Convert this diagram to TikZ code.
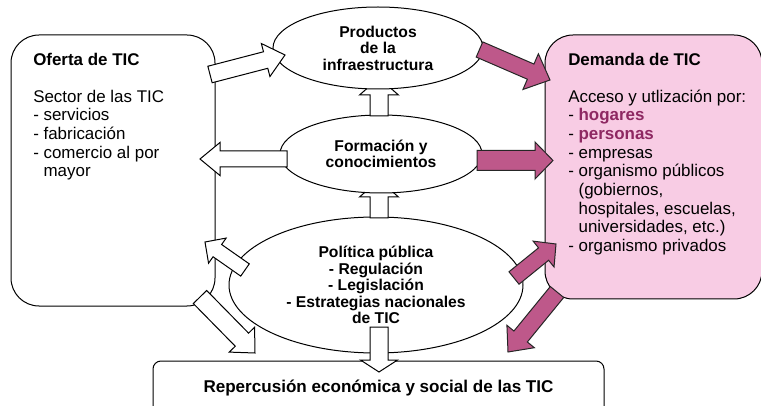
\documentclass[tikz,border=0pt]{standalone}
\usepackage{fontspec}
\setmainfont{Liberation Sans}
\usepackage{xcolor}
\usepackage{tikz}
\definecolor{boxpink}{RGB}{248, 204, 228}
\definecolor{arrowpink}{RGB}{190, 88, 138}
\definecolor{textpink}{RGB}{142, 40, 98}
\usetikzlibrary{shapes.geometric,calc,positioning}

% block arrow: style, from, to, shaft half width, head half width, head length
\newcommand{\blockarrow}[6]{%
  \coordinate (hb) at ($(#3)!#6!(#2)$);
  \draw[#1] ($(#2)!#4!90:(#3)$) -- ($(hb)!#4!90:(#3)$) -- ($(hb)!#5!90:(#3)$)
    -- (#3) -- ($(hb)!#5!-90:(#3)$) -- ($(hb)!#4!-90:(#3)$) -- ($(#2)!#4!-90:(#3)$) -- cycle;}

\begin{document}
\begin{tikzpicture}[
    x=0.75pt, y=-0.75pt,
    bubble/.style={
        ellipse,
        draw,
        fill=white,
        line width=0.75pt,
        inner sep=0pt,
        align=center,
        font=\bfseries\fontsize{11.75}{12.4}\selectfont
    },
    panel/.style={
        rectangle,
        rounded corners=21pt,
        draw,
        line width=0.75pt
    },
    paneltext/.style={
        anchor=north west,
        inner sep=0pt,
        align=left,
        font=\fontsize{12.7}{14}\selectfont
    },
    hollow/.style={draw, fill=white, line width=0.75pt},
    solid/.style={draw=black!85, fill=arrowpink, line width=0.75pt}
]
    \useasboundingbox (0,0) rectangle (761,406);

    % Middle column
    \node[bubble, minimum width=220.5pt, minimum height=102pt] (poli) at (376,285) {
        Política pública\\
        - Regulación\\
        - Legislación\\
        - Estrategias nacionales\\
        de TIC
    };
    \coordinate (poliTop) at (379,218);
    \coordinate (formIn) at (379,180);
    \blockarrow{hollow}{poliTop}{formIn}{6.75pt}{14.6pt}{12.75pt}

    \node[bubble, minimum width=151.5pt, minimum height=58.5pt] (form) at (381,154) {
        Formación y\\
        conocimientos
    };
    \coordinate (formTop) at (379,116);
    \coordinate (infraIn) at (379,78);
    \blockarrow{hollow}{formTop}{infraIn}{6.75pt}{14.6pt}{12.75pt}

    \node[bubble, minimum width=157.5pt, minimum height=61.5pt] (infra) at (378,48) {
        Productos\\
        de la\\
        infraestructura
    };

    % Side boxes
    \node[panel, minimum width=153pt, minimum height=203.25pt] (oferta) at (113,170.5) {};
    \node[paneltext] (ofertatxt) at (33,53) {
        \textbf{Oferta de TIC}\\[13.5pt]
        Sector de las TIC\\
        - servicios\\
        - fabricación\\
        - comercio al por\\
        \phantom{- }mayor
    };

    \node[panel, fill=boxpink, minimum width=162.75pt, minimum height=198pt] (demanda) at (653.5,167) {};
    \node[paneltext] (demandatxt) at (568,53) {
        \textbf{Demanda de TIC}\\[13.5pt]
        Acceso y utlización por:\\
        - \textcolor{textpink}{\textbf{hogares}}\\
        - \textcolor{textpink}{\textbf{personas}}\\
        - empresas\\
        - organismo públicos\\
        \phantom{- }(gobiernos,\\
        \phantom{- }hospitales, escuelas,\\
        \phantom{- }universidades, etc.)\\
        - organismo privados
    };

    \node[panel, rounded corners=6pt, minimum width=338.25pt, minimum height=41.25pt,
          font=\bfseries\fontsize{12.8}{14}\selectfont] (reper) at (378.5,388.5) {
        Repercusión económica y social de las TIC
    };

    % Arrows
    \coordinate (a1s) at (210,74.5);   \coordinate (a1e) at (285,55);
    \coordinate (a2s) at (479.5,49.5); \coordinate (a2e) at (550,80);
    \coordinate (a3s) at (287,159);    \coordinate (a3e) at (200,159);
    \coordinate (a4s) at (477,160.5);  \coordinate (a4e) at (553,160.5);
    \coordinate (a5s) at (514,278);    \coordinate (a5e) at (556,244);
    \coordinate (a6s) at (557,292);    \coordinate (a6e) at (508,352);
    \coordinate (a7s) at (245,270);    \coordinate (a7e) at (205,242);
    \coordinate (a8s) at (200,297);    \coordinate (a8e) at (255,353);
    \coordinate (a9s) at (379,327);    \coordinate (a9e) at (379,372);

    \blockarrow{hollow}{a1s}{a1e}{6.4pt}{12.8pt}{15pt}
    \blockarrow{solid}{a2s}{a2e}{6.2pt}{14.6pt}{15.8pt}
    \blockarrow{hollow}{a3s}{a3e}{6pt}{12.4pt}{15pt}
    \blockarrow{solid}{a4s}{a4e}{7.5pt}{13.9pt}{13.5pt}
    \blockarrow{solid}{a5s}{a5e}{6pt}{12.5pt}{12pt}
    \blockarrow{solid}{a6s}{a6e}{6.5pt}{13.3pt}{15pt}
    \blockarrow{hollow}{a7s}{a7e}{5.6pt}{11.5pt}{11.3pt}
    \blockarrow{hollow}{a8s}{a8e}{7pt}{13.3pt}{14pt}
    \blockarrow{hollow}{a9s}{a9e}{6.75pt}{13.9pt}{9pt}
\end{tikzpicture}
\end{document}
